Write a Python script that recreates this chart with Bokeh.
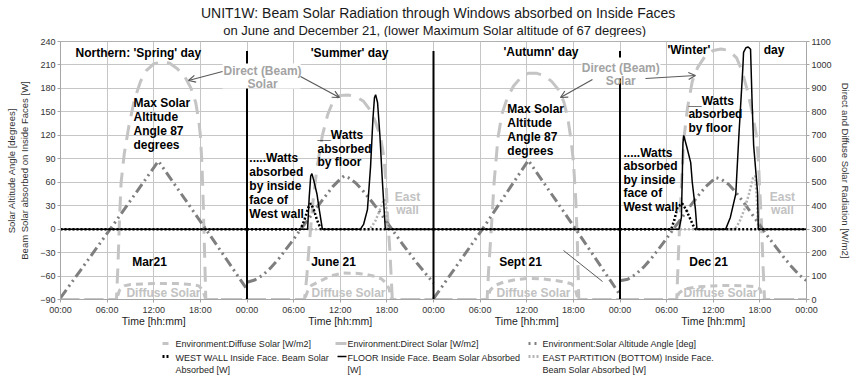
from bokeh.plotting import figure
from bokeh.models import Range1d, LinearAxis, FixedTicker, Label, Arrow, OpenHead, BoxAnnotation
from bokeh.layouts import column
from bokeh.embed import file_html
from bokeh.resources import INLINE
from bokeh.core.properties import value

FONT = "Liberation Sans"

# ---------------- data ----------------
DAY_NAMES = ["Mar21", "June 21", "Sept 21", "Dec 21"]
TICK_HOURS = list(range(0, 97, 6))
TICK_LABELS = ["00:00", "06:00", "12:00", "18:00"] * 4 + ["00:00"]
ALT_TICKS = list(range(-90, 241, 30))
RAD_TICKS = list(range(0, 1101, 100))

alt_hours = [
    [0, 6.4, 12.6, 18.7, 24],
    [0, 1, 2, 3, 4, 5, 6, 7, 8, 9, 10, 11, 12, 12.5, 13, 14, 15, 16, 17, 18, 19, 20, 21, 22, 23, 24],
    [0, 6.3, 12.2, 18.3, 24],
    [0, 1, 2, 3, 4, 5, 6, 7, 8, 9, 10, 11, 12, 12.3, 13, 14, 15, 16, 17, 18, 19, 20, 21, 22, 23, 24],
]
alt_deg = [
    [-88, 0, 87, 0, -77],
    [-68, -65, -59, -50, -39, -26, -13, 1, 14, 28, 41, 54, 64, 68, 66, 59, 48, 36, 23, 9, -5, -19, -32, -45, -57, -69],
    [-89, 0, 88, 0, -84],
    [-66, -64, -58, -49, -38, -25, -12, 2, 15, 29, 42, 54, 63, 66, 64, 57, 46, 33, 19, 5, -9, -22, -35, -47, -58, -66],
]

direct_hours = [
    [0, 7.2, 7.4, 7.6, 7.8, 8.2, 8.8, 9.5, 10.3, 11, 12, 13, 14, 15, 16, 16.8, 17.4, 17.8, 18.0, 18.2, 18.35, 18.5, 18.7, 24],
    [0, 7.4, 7.7, 8.0, 8.5, 9.0, 9.7, 10.4, 11.2, 12, 13, 14, 15, 15.8, 16.5, 17.2, 17.6, 17.9, 18.1, 18.4, 18.7, 24],
    [0, 6.9, 7.1, 7.4, 7.8, 8.3, 8.8, 9.5, 10.3, 11.2, 12.2, 13.2, 14.2, 15.2, 16.2, 16.8, 17.3, 17.7, 18.0, 18.3, 18.5, 18.7, 24],
    [0, 7.3, 7.6, 7.9, 8.2, 8.7, 9.3, 10.0, 11, 12, 13, 14, 15, 15.7, 16.4, 17.0, 17.5, 17.8, 18.0, 18.2, 18.4, 18.6, 24],
]
direct_wm2 = [
    [0, 0, 150, 350, 500, 620, 740, 850, 930, 975, 1005, 1012, 1008, 985, 950, 900, 840, 760, 700, 580, 430, 250, 0, 0],
    [0, 0, 100, 230, 420, 560, 700, 790, 855, 870, 872, 865, 845, 810, 760, 690, 610, 500, 350, 200, 0, 0],
    [0, 0, 130, 280, 500, 690, 790, 860, 910, 945, 965, 965, 955, 930, 890, 840, 770, 680, 590, 430, 260, 0, 0],
    [0, 0, 260, 480, 680, 820, 930, 990, 1040, 1062, 1068, 1062, 1030, 975, 890, 800, 710, 600, 460, 330, 150, 0, 0],
]

diffuse_hours = [
    [0, 7.2, 7.6, 8.2, 9, 12, 15, 17, 17.8, 18.3, 18.7, 24],
    [0, 7.4, 7.8, 8.3, 9, 10, 11, 12.4, 14, 15.5, 16.5, 17.3, 17.9, 18.3, 18.6, 24],
    [0, 6.9, 7.3, 7.9, 9, 10.5, 12.3, 14, 15.5, 17, 17.8, 18.2, 18.6, 24],
    [0, 7.2, 7.6, 8.3, 10, 12, 14, 16, 17.3, 18.0, 18.4, 24],
]
diffuse_wm2 = [
    [0, 0, 40, 58, 64, 68, 68, 64, 58, 40, 0, 0],
    [0, 0, 35, 60, 72, 88, 102, 113, 112, 106, 98, 88, 70, 45, 0, 0],
    [0, 0, 40, 60, 74, 84, 90, 88, 82, 74, 66, 50, 0, 0],
    [0, 0, 28, 45, 54, 58, 60, 58, 55, 45, 0, 0],
]

floor_hours = [
    [0, 24],
    [0, 7.8, 8.0, 8.2, 8.35, 8.6, 9.0, 9.3, 9.7, 14.6, 15.0, 15.5, 15.9, 16.2, 16.4, 16.55, 16.8, 17.1, 17.4, 17.8, 24],
    [0, 24],
    [0, 7.6, 7.9, 8.0, 8.1, 8.2, 8.6, 9.1, 9.3, 9.7, 9.9, 13.6, 14.2, 14.9, 15.3, 15.8, 15.9, 16.2, 16.5, 16.8, 17.0, 17.2, 17.7, 17.8, 24],
]
floor_w = [
    [0, 0],
    [0, 0, 40, 68, 71, 62, 45, 25, 0, 0, 6, 25, 80, 140, 168, 172, 162, 120, 65, 0, 0],
    [0, 0],
    [0, 0, 15, 60, 110, 120, 105, 85, 60, 26, 0, 0, 15, 45, 120, 205, 226, 232, 233, 230, 162, 107, 47, 0, 0],
]

west_hours = [
    [0, 24],
    [0, 6.9, 7.4, 7.9, 8.2, 8.6, 9.0, 9.5, 24],
    [0, 24],
    [0, 6.6, 7.0, 7.4, 8.0, 8.5, 9.0, 9.4, 9.7, 24],
]
west_w = [
    [0, 0],
    [0, 0, 12, 28, 33, 25, 12, 0, 0],
    [0, 0],
    [0, 0, 12, 28, 33, 25, 14, 5, 0, 0],
]

east_hours = [
    [0, 24],
    [0, 15.8, 16.5, 17.0, 17.4, 17.7, 17.9, 18.1, 24],
    [0, 24],
    [0, 14.8, 15.4, 16.0, 16.6, 17.1, 17.4, 17.6, 17.8, 24],
]
east_w = [
    [0, 0],
    [0, 0, 10, 22, 33, 38, 30, 0, 0],
    [0, 0],
    [0, 0, 10, 25, 45, 65, 68, 40, 0, 0],
]

TITLE = "UNIT1W: Beam Solar Radiation through Windows absorbed on Inside Faces"
SUBTITLE = "on June and December 21, (lower Maximum Solar altitude of 67 degrees)"

LEGEND_ROW1 = ["Environment:Diffuse Solar [W/m2]", "Environment:Direct Solar [W/m2]",
               "Environment:Solar Altitude Angle [deg]"]
LEGEND_ROW2 = [["WEST WALL Inside Face. Beam Solar", "Absorbed [W]"],
               ["FLOOR Inside Face. Beam Solar Absorbed", "[W]"],
               ["EAST PARTITION (BOTTOM)  Inside Face.", "Beam Solar Absorbed [W]"]]


def xs_of(hours_by_day):
    return [[d * 24 + h for h in hs] for d, hs in enumerate(hours_by_day)]


C_DIRECT = "#c4c4c4"
C_DIFFUSE = "#c4c4c4"
C_ALT = "#7f7f7f"
C_EAST = "#b4b4b4"
GRID = "#c6c6c6"

FRAME_W = 746
BORDER_L = 60
BORDER_R = 44
HPX = 96.0 / FRAME_W  # hours per screen pixel

# ---------------- header (titles) ----------------
W = BORDER_L + FRAME_W + BORDER_R
HH = 37
hdr = figure(width=W, height=HH, x_range=Range1d(0, W), y_range=Range1d(HH, 0),
             output_backend="svg", toolbar_location=None, min_border=0,
             x_axis_type=None, y_axis_type=None, outline_line_color=None)
hdr.grid.visible = False
hdr.text(x=[432], y=[12], text=[TITLE], text_font=value(FONT), text_font_size="14px",
         text_align="center", text_baseline="middle", text_color="#1a1a1a")
hdr.text(x=[428], y=[29.5], text=[SUBTITLE], text_font=value(FONT), text_font_size="13px",
         text_align="center", text_baseline="middle", text_color="#1a1a1a")

# ---------------- main plot ----------------
p = figure(frame_width=FRAME_W, frame_height=258, x_range=Range1d(0, 96), y_range=Range1d(-90, 240),
           output_backend="svg", toolbar_location=None,
           min_border_left=BORDER_L, min_border_right=BORDER_R, min_border_top=4, min_border_bottom=38,
           outline_line_color="#b0b0b0", background_fill_color="white", border_fill_color="white")
p.extra_y_ranges = {"rad": Range1d(0, 1100)}


def style_axis(ax):
    ax.axis_line_color = "#a6a6a6"
    ax.major_tick_line_color = "#a6a6a6"
    ax.major_tick_out = 3
    ax.major_tick_in = 0
    ax.minor_tick_line_color = None
    ax.major_label_text_font = FONT
    ax.major_label_text_font_size = "9px"
    ax.major_label_text_color = "#333333"
    ax.major_label_standoff = 2
    ax.axis_label_text_font = FONT
    ax.axis_label_text_font_size = "9.5px"
    ax.axis_label_text_font_style = "normal"
    ax.axis_label_text_color = "#333333"
    ax.axis_label_standoff = 2


left_ax = p.yaxis[0]
left_ax.ticker = FixedTicker(ticks=ALT_TICKS)
left_ax.axis_label = "Solar Altitude Angle [degrees]\nBeam Solar absorbed on Inside Faces [W]"
style_axis(left_ax)
left_ax.axis_label_text_line_height = 1.2
left_ax.axis_label_standoff = 7

bottom_ax = p.xaxis[0]
bottom_ax.ticker = FixedTicker(ticks=TICK_HOURS)
bottom_ax.major_label_overrides = {h: lab for h, lab in zip(TICK_HOURS, TICK_LABELS)}
style_axis(bottom_ax)

time_ax = LinearAxis(ticker=FixedTicker(ticks=[d * 24 + 12 for d in range(4)]),
                     major_label_overrides={d * 24 + 12: "Time [hh:mm]" for d in range(4)})
style_axis(time_ax)
time_ax.axis_line_color = None
time_ax.major_tick_line_color = None
time_ax.major_tick_out = 0
time_ax.major_label_standoff = -3
time_ax.major_label_text_font_size = "10.5px"
time_ax.major_label_text_color = "#222222"
p.add_layout(time_ax, "below")

right_ax = LinearAxis(y_range_name="rad", ticker=FixedTicker(ticks=RAD_TICKS),
                      axis_label="Direct and Diffuse Solar Radiation [W/m2]")
style_axis(right_ax)
right_ax.axis_label_standoff = 5
p.add_layout(right_ax, "right")

p.xgrid.ticker = FixedTicker(ticks=TICK_HOURS)
p.ygrid.ticker = FixedTicker(ticks=ALT_TICKS)
p.grid.grid_line_color = GRID
p.grid.grid_line_width = 1

p.multi_line(xs_of(direct_hours), direct_wm2, y_range_name="rad",
             line_color=C_DIRECT, line_width=3, line_dash="15 9")
p.multi_line(xs_of(diffuse_hours), diffuse_wm2, y_range_name="rad",
             line_color=C_DIFFUSE, line_width=3, line_dash="7 5")
p.multi_line(xs_of(alt_hours), alt_deg, line_color=C_ALT, line_width=3,
             line_dash="10 4 2 4 2 4")
p.multi_line(xs_of(east_hours), east_w, line_color=C_EAST, line_width=2.5, line_dash="2 2")
p.multi_line(xs_of(west_hours), west_w, line_color="black", line_width=2.5, line_dash="2 2")
p.multi_line(xs_of(floor_hours), floor_w, line_color="black", line_width=1.5)

sep_x = [d * 24 for d in range(1, 4)]
p.segment(x0=sep_x, y0=[-90] * 3, x1=sep_x, y1=[228] * 3, line_color="black", line_width=2)

PX = 330.0 / 258.0   # degrees per screen pixel


def note(x, y, lines, color="black", size="12px", align="left", lh=14, style="bold"):
    for i, t in enumerate(lines):
        p.add_layout(Label(x=x, y=y - i * lh * PX, text=t, text_font=FONT,
                           text_font_size=size, text_font_style=style, text_color=color,
                           text_align=align, text_baseline="middle"))


p.add_layout(BoxAnnotation(left=20.85, right=30.9, bottom=179.8, top=211.9,
                           fill_color="white", fill_alpha=1, line_color=None))
p.add_layout(BoxAnnotation(left=67.05, right=77.2, bottom=192.8, top=219.5,
                           fill_color="white", fill_alpha=1, line_color=None))

note(1.93, 225.9, ["Northern: 'Spring' day"])
note(32.2, 225.9, ["'Summer' day"])
note(57.0, 227.2, ["'Autumn' day"])
note(78.1, 228.5, ["'Winter'"])
note(90.5, 228.5, ["day"])

note(9.39, 160.7, ["Max Solar", "Altitude", "Angle 87", "degrees"])
note(57.5, 154.3, ["Max Solar", "Altitude", "Angle 87", "degrees"])
note(24.3, 91.6, [".....Watts", "absorbed", "by inside", "face of", "West wall"], lh=14)
note(72.45, 98.0, [".....Watts", "absorbed", "by inside", "face of", "West wall"], lh=13.5)
note(33.07, 119.8, ["__Watts", "absorbed", "by floor"], lh=13.5)
note(80.8, 164.5, ["__Watts", "absorbed", "by floor"], lh=13.5)

GRAYTXT = "#a3a3a3"
note(26.0, 202.9, ["Direct (Beam)", "Solar"], color=GRAYTXT, align="center", lh=13)
note(72.1, 205.5, ["Direct (Beam)", "Solar"], color=GRAYTXT, align="center", lh=13)
note(44.65, 40.5, ["East", "wall"], color="#c2c2c2", align="center", lh=13)
note(92.9, 40.5, ["East", "wall"], color="#c2c2c2", align="center", lh=13)

for d, name in enumerate(DAY_NAMES):
    note(d * 24 + [11.45, 11.13, 11.2, 11.4][d], -41.4, [name], align="center")
    note(d * 24 + [13.25, 13.06, 12.87, 12.93][d], -81.5, ["Diffuse Solar"],
         color="#c2c2c2", align="center")

ARROW_C = "#5a5a5a"
for xs, ys, xe, ye in [(20.85, 201.6, 16.47, 190.1), (30.88, 195.2, 35.9, 168.4),
                       (68.46, 191.4, 64.34, 168.4), (75.28, 192.7, 81.71, 196.5)]:
    p.add_layout(Arrow(end=OpenHead(size=7, line_color=ARROW_C, line_width=1.2),
                       x_start=xs, y_start=ys, x_end=xe, y_end=ye,
                       line_color=ARROW_C, line_width=1.2))
p.add_layout(Arrow(end=None, x_start=64.73, y_start=-27.3, x_end=69.75, y_end=-67.0,
                   line_color=ARROW_C, line_width=1))

# ---------------- legend: own figure, same horizontal scale as the plot ----------------
LH = 41
leg = figure(frame_width=FRAME_W, frame_height=LH, x_range=Range1d(0, 96), y_range=Range1d(LH, 0),
             output_backend="svg", toolbar_location=None,
             min_border_left=BORDER_L, min_border_right=BORDER_R, min_border_top=0, min_border_bottom=0,
             x_axis_type=None, y_axis_type=None, outline_line_color=None)
leg.grid.visible = False


def hx(px):
    return (px - BORDER_L) * HPX


COL_TEXT_X = [hx(175), hx(347), hx(542)]
ROW_Y = [6, 20]
SAMPLES = [  # (x0 px, x1 px, row, colour, width, dash)
    (162, 168, 0, C_DIFFUSE, 3, "solid"),
    (335, 346, 0, C_DIRECT, 3, "solid"),
    (528, 536, 0, C_ALT, 3, "2 4"),
    (162, 170, 1, "black", 3, "2 2"),
    (337, 346, 1, "black", 1.6, "solid"),
    (528, 538, 1, C_EAST, 3, "2 2"),
]
for x0, x1, r, c, w, dash in SAMPLES:
    yy = ROW_Y[r] - (0 if r == 0 else 1)
    leg.line([hx(x0), hx(x1)], [yy, yy], line_color=c, line_width=w, line_dash=dash)

for x, t in zip(COL_TEXT_X, LEGEND_ROW1):
    leg.text(x=[x], y=[ROW_Y[0]], text=[t], text_font=value(FONT), text_font_size="9px",
             text_baseline="middle", text_align="left", text_color="#1e1e1e")
for x, lines in zip(COL_TEXT_X, LEGEND_ROW2):
    for i, t in enumerate(lines):
        leg.text(x=[x], y=[ROW_Y[1] + 12 * i], text=[t], text_font=value(FONT),
                 text_font_size="9px", text_baseline="middle", text_align="left",
                 text_color="#1e1e1e")

layout = column(hdr, p, leg)
open("out.html", "w").write(file_html(layout, INLINE))
